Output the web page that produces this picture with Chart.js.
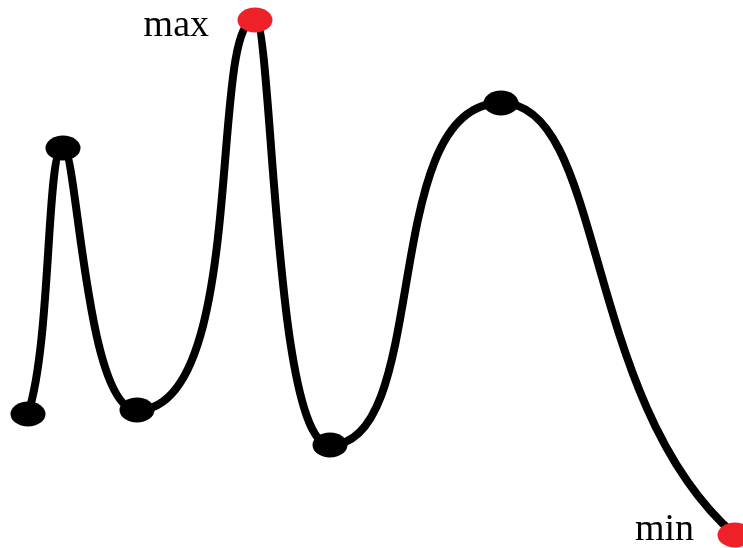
<!DOCTYPE html>
<html>
<head>
<meta charset="utf-8">
<script src="https://cdn.jsdelivr.net/npm/chart.js@4"></script>
<style>
    html, body { margin: 0; padding: 0; background: #ffffff; }
    #wrap { width: 743px; height: 548px; position: relative; }
</style>
</head>
<body>
<div id="wrap"><canvas id="curveChart"></canvas></div>
<script>
// Pontos da curva (unidades do desenho, y para cima)
const xValues = [28, 63, 137, 255, 330, 501, 735];
const yValues = [134, 400, 138, 528, 103, 445, 13];
const labelMax = 'max';
const labelMin = 'min';

// Forma de cada trecho: [alça de saída, alça de chegada] em fração do dx
const segShape = [[0.69, 0.49], [0.2, 0.7], [0.95, 0.4], [0.24, 0.76], [0.6, 0.72], [0.45, 0.66]];
const startSlope = -3.1;  // inclinação (px) no primeiro ponto
const endSlope = 0.87;    // inclinação (px) no último ponto

// Elipse usada como marcador
function makeEllipse(color) {
    const c = document.createElement('canvas');
    c.width = 36;
    c.height = 26;
    const g = c.getContext('2d');
    g.fillStyle = color;
    g.beginPath();
    g.ellipse(18, 13, 17.5, 12.5, 0, 0, Math.PI * 2);
    g.fill();
    return c;
}

const blackDot = makeEllipse('#000000');
const redDot = makeEllipse('#ee2028');

const iMax = yValues.indexOf(Math.max(...yValues));
const iMin = yValues.indexOf(Math.min(...yValues));

// Alças horizontais nos extremos, como no desenho original
const curveShape = {
    id: 'curveShape',
    beforeDatasetsDraw(chart) {
        const meta = chart.getDatasetMeta(0);
        const line = meta.dataset;
        const pts = meta.data;
        line.updateControlPoints(chart.chartArea, 'x');
        const last = pts.length - 1;
        for (let s = 0; s < last; s++) {
            const p0 = pts[s];
            const p1 = pts[s + 1];
            const dx = p1.x - p0.x;
            const fo = segShape[s][0] * dx;
            const fi = segShape[s][1] * dx;
            p0.cp2x = p0.x + fo;
            p0.cp2y = s === 0 ? p0.y + fo * startSlope : p0.y;
            p1.cp1x = p1.x - fi;
            p1.cp1y = s + 1 === last ? p1.y - fi * endSlope : p1.y;
        }
        delete line._path;
    }
};

// Texto "max" e "min" ao lado dos pontos vermelhos
const extremeLabels = {
    id: 'extremeLabels',
    afterDatasetsDraw(chart) {
        const meta = chart.getDatasetMeta(0);
        const ctx = chart.ctx;
        ctx.save();
        ctx.fillStyle = '#000000';
        ctx.font = '38px "Liberation Serif", "Times New Roman", serif';
        ctx.textAlign = 'right';
        ctx.textBaseline = 'alphabetic';
        const pMax = meta.data[iMax];
        ctx.fillText(labelMax, pMax.x - 46, pMax.y + 16);
        const pMin = meta.data[iMin];
        ctx.fillText(labelMin, pMin.x - 41, pMin.y + 5);
        ctx.restore();
    }
};

const ctx = document.getElementById('curveChart').getContext('2d');
new Chart(ctx, {
    type: 'line',
    data: {
        datasets: [{
            data: xValues.map((x, i) => ({ x: x, y: yValues[i] })),
            borderColor: '#000000',
            borderWidth: 8,
            tension: 0.4,
            pointStyle: yValues.map((v, i) => (i === iMax || i === iMin) ? redDot : blackDot),
            pointRadius: 18,
            pointHoverRadius: 18,
            fill: false,
            clip: false
        }]
    },
    options: {
        responsive: true,
        maintainAspectRatio: false,
        animation: false,
        events: [],
        layout: { padding: 0, autoPadding: false },
        plugins: {
            legend: { display: false },
            tooltip: { enabled: false },
            title: { display: false }
        },
        scales: {
            x: { type: 'linear', min: 0, max: 743, display: false },
            y: { type: 'linear', min: 0, max: 548, display: false }
        }
    },
    plugins: [curveShape, extremeLabels]
});
</script>
</body>
</html>
